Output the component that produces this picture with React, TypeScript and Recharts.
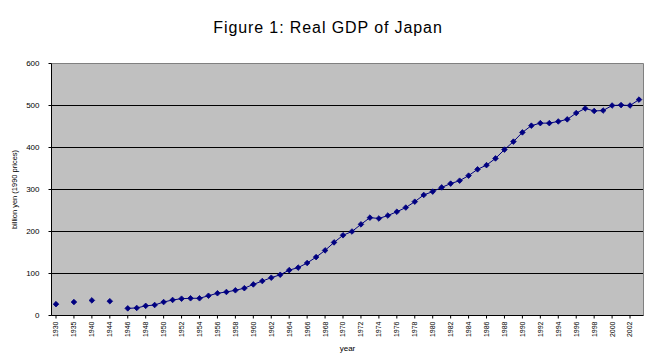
import React from "react";
import {
  LineChart,
  Line,
  XAxis,
  YAxis,
  CartesianGrid,
  Label,
} from "recharts";

// Categories (the odd early rows are spacer rows without data in the source sheet)
const years: string[] = [
  "1930", "1932", "1935", "1937", "1940", "1942", "1944", "1945",
  "1946", "1947", "1948", "1949", "1950", "1951", "1952", "1953", "1954", "1955",
  "1956", "1957", "1958", "1959", "1960", "1961", "1962", "1963", "1964", "1965",
  "1966", "1967", "1968", "1969", "1970", "1971", "1972", "1973", "1974", "1975",
  "1976", "1977", "1978", "1979", "1980", "1981", "1982", "1983", "1984", "1985",
  "1986", "1987", "1988", "1989", "1990", "1991", "1992", "1993", "1994", "1995",
  "1996", "1997", "1998", "1999", "2000", "2001", "2002", "2003",
];

const gdp: (number | null)[] = [
  27, null, 32, null, 36, null, 34, null,
  17, 18, 23, 25, 32, 37, 40, 41, 41, 47,
  53, 56, 60, 65, 74, 82, 90, 97, 108, 114,
  125, 139, 155, 174, 191, 200, 217, 233, 231, 238,
  247, 257, 271, 287, 295, 305, 314, 321, 333, 348,
  358, 374, 395, 414, 436, 452, 458, 458, 462, 467,
  482, 493, 487, 488, 500, 501, 500, 514,
];

const yTicks: number[] = [0, 100, 200, 300, 400, 500, 600];
const gridValues: number[] = [100, 200, 300, 400, 500];
const borderValues: number[] = [600];

const data = years.map((y, i) => ({ year: y, gdp: gdp[i] }));

const FONT = "'Liberation Sans', Arial, sans-serif";
const NAVY = "#000080";

const XTick = (props: any) => {
  const { x, y, payload } = props;
  return (
    <text
      x={x}
      y={y}
      transform={`rotate(-90 ${x} ${y})`}
      textAnchor="end"
      dy="0.35em"
      fontSize={7}
      fontFamily={FONT}
      fill="#000"
    >
      {payload.value}
    </text>
  );
};

const Diamond = (props: any) => {
  const { cx, cy, value } = props;
  if (value == null || cx == null || cy == null) return <g />;
  const r = 2.8;
  return (
    <polygon
      points={`${cx},${cy - r} ${cx + r},${cy} ${cx},${cy + r} ${cx - r},${cy}`}
      fill={NAVY}
      stroke={NAVY}
      strokeWidth={0.8}
    />
  );
};

export default function App() {
  return (
    <div
      style={{
        position: "absolute",
        left: 0,
        top: 0,
        width: 656,
        height: 364,
        background: "#fff",
      }}
    >
      <div
        style={{
          position: "absolute",
          left: 0,
          top: 19,
          width: 656,
          textAlign: "center",
          fontFamily: FONT,
          fontSize: 16,
          letterSpacing: 0.9,
          lineHeight: "18px",
          color: "#000",
        }}
      >
        Figure 1: Real GDP of Japan
      </div>
      <LineChart
        width={656}
        height={364}
        data={data}
        margin={{ top: 63.5, right: 12.5, left: 0, bottom: 0 }}
        style={{ position: "absolute", left: 0, top: 0 }}
      >
        <CartesianGrid
          vertical={false}
          horizontalValues={gridValues}
          stroke="#000"
          strokeWidth={1}
          fill="#C0C0C0"
          fillOpacity={1}
        />
        <CartesianGrid
          horizontalValues={borderValues}
          verticalCoordinatesGenerator={({ offset }: any) => [offset.left + offset.width]}
          stroke="#808080"
          strokeWidth={1}
          fill="none"
        />
        <XAxis
          dataKey="year"
          padding={{ left: 4.5, right: 4.5 }}
          interval={1}
          height={48.5}
          tick={<XTick />}
          tickSize={3}
          tickMargin={3}
          axisLine={{ stroke: "#000" }}
          tickLine={{ stroke: "#000" }}
        >
          <Label
            value="year"
            position="insideBottom"
            offset={13}
            style={{ fontSize: 8, fontFamily: FONT, fill: "#000" }}
          />
        </XAxis>
        <YAxis
          domain={[0, 600]}
          ticks={yTicks}
          width={51.5}
          tickSize={3}
          tickMargin={9}
          axisLine={{ stroke: "#000" }}
          tickLine={{ stroke: "#000" }}
          tick={{ fontSize: 8, fontFamily: FONT, fill: "#000" }}
        >
          <Label
            value="billion yen (1990 prices)"
            angle={-90}
            position="insideLeft"
            offset={14}
            style={{ fontSize: 7.5, fontFamily: FONT, fill: "#000", textAnchor: "middle" }}
          />
        </YAxis>
        <Line
          type="linear"
          dataKey="gdp"
          stroke={NAVY}
          strokeWidth={1}
          connectNulls={false}
          dot={<Diamond />}
          activeDot={false}
          isAnimationActive={false}
        />
      </LineChart>
    </div>
  );
}
